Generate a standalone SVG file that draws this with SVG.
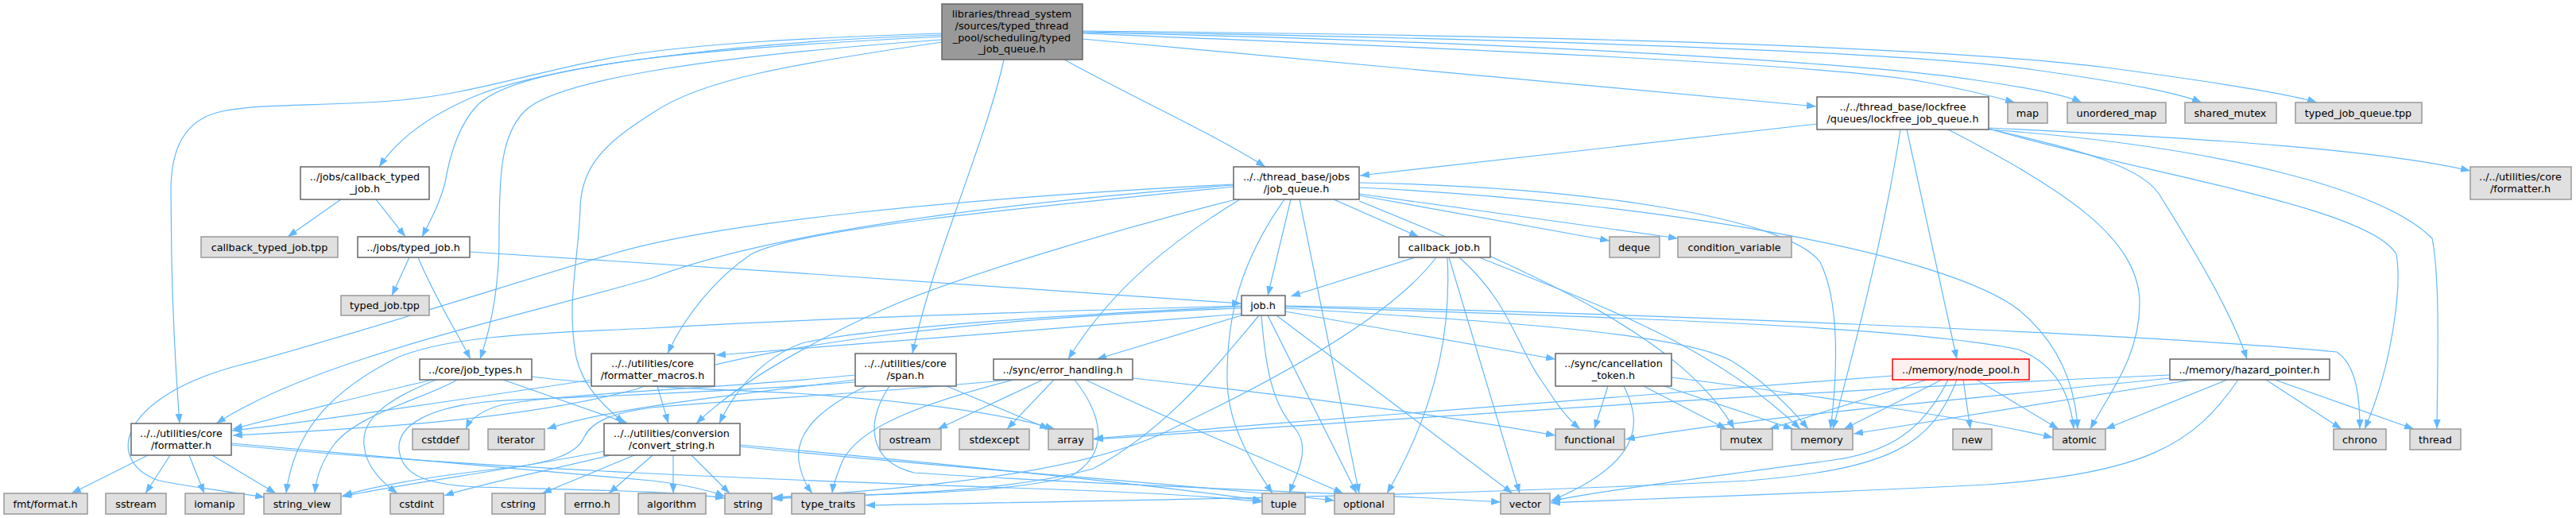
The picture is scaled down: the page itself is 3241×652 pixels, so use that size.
<svg xmlns="http://www.w3.org/2000/svg" width="3241" height="652" viewBox="0 0 3241 652">
<style>
.n rect{fill:#ffffff;stroke:#666666;stroke-width:1.5}
.g rect{fill:#e0e0e0;stroke:#999999;stroke-width:1.5}
.m rect{fill:#999999;stroke:#666666;stroke-width:1.5}
.r rect{fill:#fff0f0;stroke:#ff0000;stroke-width:1.5}
text{font-family:"DejaVu Sans","Liberation Sans",Arial,sans-serif;font-size:12.8px;text-anchor:middle;fill:#000000}
#edges path{fill:none;stroke:#63b8ff;stroke-width:1.2;marker-end:url(#a)}
</style>
<defs>
<marker id="a" markerWidth="13" markerHeight="9" refX="12" refY="4.5" orient="auto" markerUnits="userSpaceOnUse">
<path d="M0,0 L12,4.5 L0,9 z" fill="#63b8ff" stroke="none"/>
</marker>
</defs>
<rect width="3241" height="652" fill="#ffffff"/>
<g id="edges">
<path d="M1185,44 C950,52 700,80 600,120 C540,145 500,175 477,210"/>
<path d="M1185,46 C900,60 650,80 600,133 C575,160 565,200 560,230 C552,260 540,280 531,298"/>
<path d="M1185,50 C900,70 700,100 660,140 C630,170 628,220 628,300 C628,370 615,420 604,452"/>
<path d="M1185,42 C1000,48 900,55 820,65 C700,80 600,120 492,127 C400,134 330,130 280,140 C230,150 215,190 215,240 L216,330 C218,420 222,480 226,533"/>
<path d="M1185,53 C1000,80 880,100 820,143 C760,180 732,210 730,260 C728,330 712,380 725,450 C735,490 760,510 785,533"/>
<path d="M1263,75 C1240,180 1175,320 1148,445"/>
<path d="M1339,75 C1420,120 1530,170 1592,210"/>
<path d="M1362,49 C1700,80 2000,105 2285,134"/>
<path d="M1362,42 C1800,60 2300,80 2420,103 C2470,112 2510,122 2535,129"/>
<path d="M1362,41 C1900,52 2350,80 2480,100 C2550,110 2600,120 2619,129"/>
<path d="M1362,40 C1900,48 2400,65 2560,88 C2680,105 2740,117 2770,129"/>
<path d="M1362,39 C2000,45 2450,60 2650,85 C2800,105 2880,118 2915,129"/>
<path d="M429,251 L362,298"/>
<path d="M473,251 L510,298"/>
<path d="M515,324 L493,372"/>
<path d="M526,324 C545,370 570,410 592,452"/>
<path d="M591,317 C900,335 1300,365 1562,382"/>
<path d="M544,478 C450,500 350,525 293,540"/>
<path d="M575,478 C540,500 450,520 420,560 C405,580 398,600 396,621"/>
<path d="M549,478 C480,505 455,530 458,560 C460,590 485,610 500,621"/>
<path d="M633,478 L790,533"/>
<path d="M669,474 C750,485 900,490 1000,495 C1150,505 1260,520 1327,540"/>
<path d="M186,573 L90,621"/>
<path d="M214,573 L183,621"/>
<path d="M238,573 L257,621"/>
<path d="M267,573 L347,621"/>
<path d="M291,558 C500,575 700,595 820,605 C860,610 890,616 912,625"/>
<path d="M291,560 C600,590 1000,605 1300,615 C1450,620 1540,626 1588,632"/>
<path d="M760,568 C650,590 500,610 430,625"/>
<path d="M768,573 C700,590 600,610 559,624"/>
<path d="M798,573 L682,621"/>
<path d="M821,573 L766,621"/>
<path d="M847,573 L847,621"/>
<path d="M870,573 L918,621"/>
<path d="M931,560 C1200,585 1450,610 1588,630"/>
<path d="M931,562 C1200,590 1500,610 1679,630"/>
<path d="M827,486 L841,533"/>
<path d="M745,478 C600,500 400,530 292,542"/>
<path d="M1191,486 L1320,540"/>
<path d="M1090,486 C1040,510 1000,540 1005,580 C1008,600 1015,612 1022,621"/>
<path d="M1119,486 C1090,530 1090,580 1150,595 C1400,612 1700,620 1888,632"/>
<path d="M1076,472 C900,490 700,495 630,510 C605,517 592,527 586,540"/>
<path d="M1076,478 C950,495 780,510 688,540"/>
<path d="M1076,481 C900,495 700,500 620,505 C540,512 500,535 502,565 C505,600 540,610 600,613 C750,617 850,618 912,627"/>
<path d="M1312,478 L1180,540"/>
<path d="M1326,478 L1267,540"/>
<path d="M1352,478 C1385,520 1400,570 1346,600 C1250,625 1050,622 972,627"/>
<path d="M1275,478 C1150,510 1080,540 1060,580 C1052,600 1048,612 1047,621"/>
<path d="M1271,478 C1100,495 900,505 820,513 C770,520 745,530 735,550 C725,575 680,585 628,590 C540,600 470,612 431,624"/>
<path d="M1366,478 C1430,510 1550,560 1690,621"/>
<path d="M1425,476 C1600,495 1800,520 1957,548"/>
<path d="M1562,388 C1250,400 950,430 800,490 C650,530 450,540 293,548"/>
<path d="M1562,395 L901,447"/>
<path d="M1562,386 C1300,398 1080,415 1009,432 C960,450 925,490 905,533"/>
<path d="M1562,385 C1200,395 950,405 820,413 C650,420 560,425 500,450 C420,490 370,540 360,621"/>
<path d="M1562,397 L1380,452"/>
<path d="M1617,392 L1957,452"/>
<path d="M1584,397 C1540,450 1470,540 1375,590 C1250,625 1050,622 972,628"/>
<path d="M1587,397 C1592,460 1600,510 1630,540 C1650,565 1630,600 1622,621"/>
<path d="M1595,397 L1707,621"/>
<path d="M1606,397 L1903,621"/>
<path d="M1617,388 C1900,405 2120,420 2180,455 C2220,480 2250,510 2275,540"/>
<path d="M1617,385 C2000,392 2700,420 2940,443 C2965,460 2969,500 2969,540"/>
<path d="M1617,386 C2000,398 2400,410 2540,440 C2590,460 2605,500 2609,540"/>
<path d="M1780,324 L1624,373"/>
<path d="M1807,324 C1750,400 1600,480 1480,537 C1400,580 1250,610 973,626"/>
<path d="M1821,324 C1825,400 1815,500 1745,621"/>
<path d="M1823,324 L1912,621"/>
<path d="M1836,324 C1900,380 1910,440 1940,480 C1960,510 1970,525 1988,540"/>
<path d="M1861,324 C2000,380 2150,430 2265,540"/>
<path d="M2023,486 L2006,540"/>
<path d="M2043,486 C2065,530 2070,580 1952,630"/>
<path d="M2068,486 L2172,540"/>
<path d="M2094,486 L2256,540"/>
<path d="M2103,475 C2300,500 2500,530 2583,551"/>
<path d="M1624,251 L1595,372"/>
<path d="M1678,251 L1785,298"/>
<path d="M1710,246 L2025,303"/>
<path d="M1710,244 L2111,300"/>
<path d="M1616,251 C1560,330 1543,400 1544,480 C1545,540 1580,590 1601,621"/>
<path d="M1635,251 L1710,621"/>
<path d="M1710,253 C1950,350 2120,430 2182,540"/>
<path d="M1710,230 C2000,235 2250,275 2290,330 C2315,380 2312,470 2303,540"/>
<path d="M1710,236 C2100,255 2450,320 2540,390 C2600,440 2612,500 2614,540"/>
<path d="M1552,232 C1200,250 900,280 769,320 C650,355 450,420 300,460 C150,500 130,580 200,605 C250,615 300,620 333,626"/>
<path d="M1552,233 C1200,260 950,300 820,350 C650,400 400,450 272,533"/>
<path d="M1552,235 C1250,265 1000,290 945,320 C900,350 860,400 840,445"/>
<path d="M1555,251 C1400,290 1200,350 1110,390 C1000,440 920,490 876,533"/>
<path d="M1560,251 C1480,300 1400,360 1344,452"/>
<path d="M2286,156 L1711,221"/>
<path d="M2391,163 C2370,300 2330,450 2306,540"/>
<path d="M2399,163 L2462,452"/>
<path d="M2451,163 C2600,240 2690,300 2692,380 C2693,450 2650,500 2630,540"/>
<path d="M2502,162 C2620,190 2700,210 2720,250 C2770,330 2810,400 2827,452"/>
<path d="M2502,162 C2700,220 2980,260 3015,320 C3022,360 3010,460 2975,540"/>
<path d="M2502,163 C2800,185 3000,240 3060,300 C3070,350 3067,450 3066,540"/>
<path d="M2502,161 C2800,175 3000,190 3108,215"/>
<path d="M2381,473 C2000,500 1700,525 1376,552"/>
<path d="M2424,478 L2226,540"/>
<path d="M2443,478 L2320,540"/>
<path d="M2451,478 C2420,540 2380,570 2300,580 C2150,600 2000,620 1951,631"/>
<path d="M2462,478 C2430,560 2380,590 2200,605 C1800,625 1400,630 1089,636"/>
<path d="M2470,478 L2479,540"/>
<path d="M2487,478 L2590,540"/>
<path d="M2730,472 C2300,490 1800,525 1376,553"/>
<path d="M2730,476 C2500,500 2200,525 2045,553"/>
<path d="M2758,478 L2332,546"/>
<path d="M2802,478 L2649,540"/>
<path d="M2816,478 C2760,560 2700,595 2500,610 C2200,625 2000,630 1951,633"/>
<path d="M2851,478 L2946,540"/>
<path d="M2862,478 L3037,540"/>
</g>
<g id="main" class="m"><rect x="1185" y="5" width="177" height="70"/><text x="1273" y="22">libraries/thread_system</text><text x="1273" y="37">/sources/typed_thread</text><text x="1273" y="52">_pool/scheduling/typed</text><text x="1273" y="66">_job_queue.h</text></g>
<g id="callback_typed_job_h" class="n"><rect x="378" y="210" width="162" height="41"/><text x="459" y="227">../jobs/callback_typed</text><text x="459" y="242">_job.h</text></g>
<g id="callback_typed_job_tpp" class="g"><rect x="253" y="298" width="172" height="26"/><text x="339" y="316">callback_typed_job.tpp</text></g>
<g id="typed_job_h" class="n"><rect x="450" y="298" width="141" height="26"/><text x="520" y="316">../jobs/typed_job.h</text></g>
<g id="typed_job_tpp" class="g"><rect x="429" y="372" width="111" height="25"/><text x="484" y="389">typed_job.tpp</text></g>
<g id="job_types_h" class="n"><rect x="528" y="452" width="141" height="26"/><text x="598" y="470">../core/job_types.h</text></g>
<g id="formatter_h" class="n"><rect x="165" y="533" width="126" height="40"/><text x="228" y="550">../../utilities/core</text><text x="228" y="565">/formatter.h</text></g>
<g id="formatter_macros_h" class="n"><rect x="744" y="445" width="155" height="41"/><text x="821" y="462">../../utilities/core</text><text x="821" y="477">/formatter_macros.h</text></g>
<g id="convert_string_h" class="n"><rect x="760" y="533" width="171" height="40"/><text x="845" y="550">../../utilities/conversion</text><text x="845" y="565">/convert_string.h</text></g>
<g id="span_h" class="n"><rect x="1076" y="445" width="127" height="41"/><text x="1139" y="462">../../utilities/core</text><text x="1139" y="477">/span.h</text></g>
<g id="error_handling_h" class="n"><rect x="1250" y="452" width="175" height="26"/><text x="1337" y="470">../sync/error_handling.h</text></g>
<g id="job_h" class="n"><rect x="1562" y="372" width="55" height="25"/><text x="1589" y="389">job.h</text></g>
<g id="job_queue_h" class="n"><rect x="1552" y="210" width="158" height="41"/><text x="1631" y="227">../../thread_base/jobs</text><text x="1631" y="242">/job_queue.h</text></g>
<g id="callback_job_h" class="n"><rect x="1760" y="298" width="115" height="26"/><text x="1817" y="316">callback_job.h</text></g>
<g id="deque" class="g"><rect x="2025" y="298" width="63" height="26"/><text x="2056" y="316">deque</text></g>
<g id="condition_variable" class="g"><rect x="2111" y="298" width="143" height="26"/><text x="2182" y="316">condition_variable</text></g>
<g id="lockfree_job_queue_h" class="n"><rect x="2286" y="122" width="216" height="41"/><text x="2394" y="139">../../thread_base/lockfree</text><text x="2394" y="154">/queues/lockfree_job_queue.h</text></g>
<g id="map" class="g"><rect x="2526" y="129" width="50" height="26"/><text x="2551" y="147">map</text></g>
<g id="unordered_map" class="g"><rect x="2601" y="129" width="124" height="26"/><text x="2663" y="147">unordered_map</text></g>
<g id="shared_mutex" class="g"><rect x="2749" y="129" width="115" height="26"/><text x="2806" y="147">shared_mutex</text></g>
<g id="typed_job_queue_tpp" class="g"><rect x="2888" y="129" width="159" height="26"/><text x="2967" y="147">typed_job_queue.tpp</text></g>
<g id="formatter_h_2" class="g"><rect x="3108" y="210" width="127" height="41"/><text x="3171" y="227">../../utilities/core</text><text x="3171" y="242">/formatter.h</text></g>
<g id="cancellation_token_h" class="n"><rect x="1957" y="445" width="146" height="41"/><text x="2030" y="462">../sync/cancellation</text><text x="2030" y="477">_token.h</text></g>
<g id="node_pool_h" class="r"><rect x="2381" y="452" width="172" height="26"/><text x="2467" y="470">../memory/node_pool.h</text></g>
<g id="hazard_pointer_h" class="n"><rect x="2730" y="452" width="201" height="26"/><text x="2830" y="470">../memory/hazard_pointer.h</text></g>
<g id="cstddef" class="g"><rect x="519" y="540" width="71" height="26"/><text x="554" y="558">cstddef</text></g>
<g id="iterator" class="g"><rect x="614" y="540" width="71" height="26"/><text x="649" y="558">iterator</text></g>
<g id="ostream" class="g"><rect x="1107" y="540" width="77" height="26"/><text x="1145" y="558">ostream</text></g>
<g id="stdexcept" class="g"><rect x="1207" y="540" width="88" height="26"/><text x="1251" y="558">stdexcept</text></g>
<g id="array" class="g"><rect x="1319" y="540" width="56" height="26"/><text x="1347" y="558">array</text></g>
<g id="functional" class="g"><rect x="1957" y="540" width="87" height="26"/><text x="2000" y="558">functional</text></g>
<g id="mutex" class="g"><rect x="2165" y="540" width="65" height="26"/><text x="2197" y="558">mutex</text></g>
<g id="memory" class="g"><rect x="2254" y="540" width="77" height="26"/><text x="2292" y="558">memory</text></g>
<g id="new" class="g"><rect x="2457" y="540" width="49" height="26"/><text x="2481" y="558">new</text></g>
<g id="atomic" class="g"><rect x="2583" y="540" width="66" height="26"/><text x="2616" y="558">atomic</text></g>
<g id="chrono" class="g"><rect x="2936" y="540" width="66" height="26"/><text x="2969" y="558">chrono</text></g>
<g id="thread" class="g"><rect x="3032" y="540" width="64" height="26"/><text x="3064" y="558">thread</text></g>
<g id="fmt_format_h" class="g"><rect x="5" y="621" width="105" height="26"/><text x="57" y="639">fmt/format.h</text></g>
<g id="sstream" class="g"><rect x="133" y="621" width="76" height="26"/><text x="171" y="639">sstream</text></g>
<g id="iomanip" class="g"><rect x="233" y="621" width="74" height="26"/><text x="270" y="639">iomanip</text></g>
<g id="string_view" class="g"><rect x="332" y="621" width="97" height="26"/><text x="380" y="639">string_view</text></g>
<g id="cstdint" class="g"><rect x="491" y="621" width="67" height="26"/><text x="524" y="639">cstdint</text></g>
<g id="cstring" class="g"><rect x="619" y="621" width="67" height="26"/><text x="652" y="639">cstring</text></g>
<g id="errno_h" class="g"><rect x="711" y="621" width="68" height="26"/><text x="745" y="639">errno.h</text></g>
<g id="algorithm" class="g"><rect x="803" y="621" width="85" height="26"/><text x="845" y="639">algorithm</text></g>
<g id="string" class="g"><rect x="912" y="621" width="59" height="26"/><text x="941" y="639">string</text></g>
<g id="type_traits" class="g"><rect x="996" y="621" width="92" height="26"/><text x="1042" y="639">type_traits</text></g>
<g id="tuple" class="g"><rect x="1588" y="621" width="54" height="26"/><text x="1615" y="639">tuple</text></g>
<g id="optional" class="g"><rect x="1679" y="621" width="75" height="26"/><text x="1716" y="639">optional</text></g>
<g id="vector" class="g"><rect x="1888" y="621" width="62" height="26"/><text x="1919" y="639">vector</text></g>
</svg>
